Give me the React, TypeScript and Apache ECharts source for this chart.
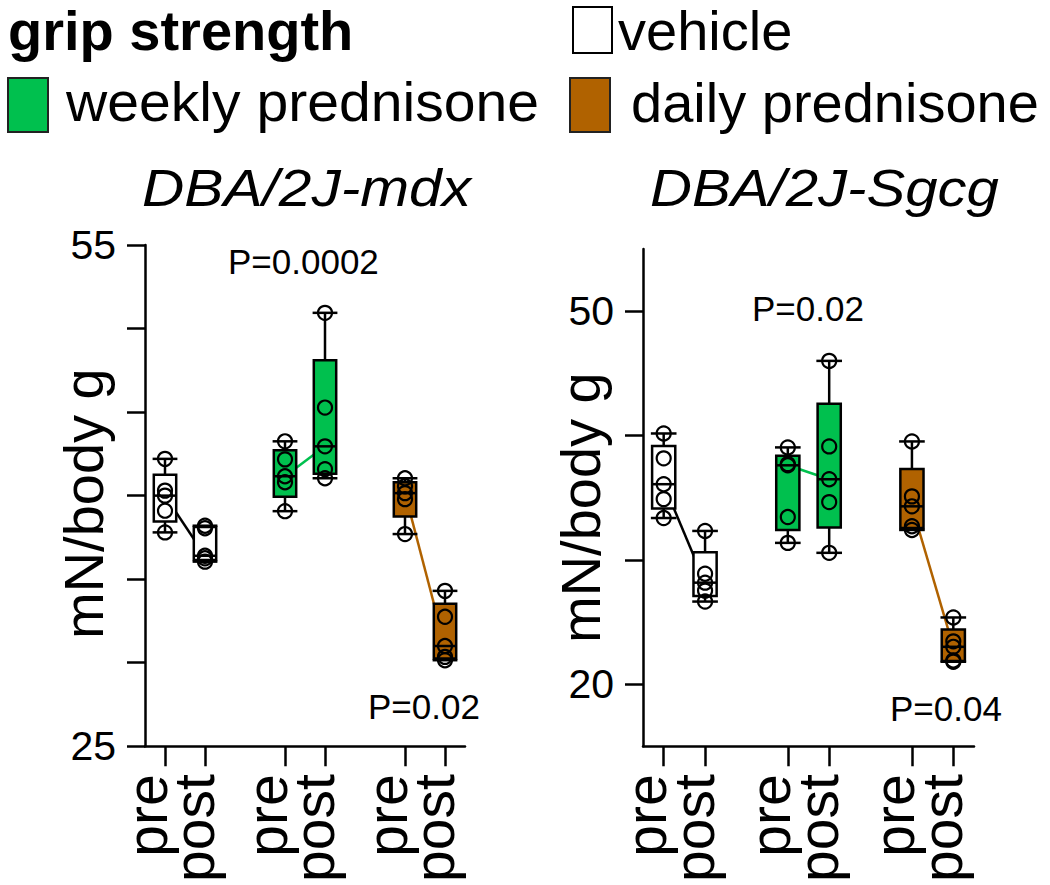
import React, { useEffect, useRef } from 'react';
import * as echarts from 'echarts';

const FONT = '"Liberation Sans", Arial, Helvetica, sans-serif';

// groups and colours
const groupNames = ['vehicle', 'weekly prednisone', 'daily prednisone'];
const groupFill = ['#FFFFFF', '#00C04E', '#B06200'];
const groupLine = ['#000000', '#00C04E', '#B06200'];

// x positions of the six boxes (pre/post for each group) and their tick labels
const xPositions = [1, 2, 4, 5, 7, 8];
const xTickLabels = ['pre', 'post', 'pre', 'post', 'pre', 'post'];
const boxGroup = [0, 0, 1, 1, 2, 2];

// y ticks and tick labels
const mdxYTicks = [25, 30, 35, 40, 45, 50, 55];
const mdxYLabels = [25, 55];
const sgcgYTicks = [20, 30, 40, 50];
const sgcgYLabels = [20, 50];

// individual mice, mN/body g  (DBA/2J-mdx)
const mdxVehPre = [42.2, 40.3, 40.0, 39.1, 37.8];
const mdxVehPost = [38.2, 38.05, 36.4, 36.25, 36.05];
const mdxWeekPre = [43.25, 42.17, 41.16, 40.8, 39.07];
const mdxWeekPost = [50.94, 45.27, 42.95, 41.58, 41.04];
const mdxDailyPre = [41.04, 40.56, 40.15, 39.79, 37.7];
const mdxDailyPost = [34.3, 32.75, 31.0, 30.35, 30.15];

// individual mice, mN/body g  (DBA/2J-Sgcg)
const sgcgVehPre = [40.16, 38.16, 36.08, 34.88, 33.36];
const sgcgVehPost = [32.32, 28.88, 28.16, 27.52, 26.64];
const sgcgWeekPre = [39.04, 37.7, 37.6, 33.44, 31.36];
const sgcgWeekPost = [46.0, 39.12, 36.48, 34.64, 30.56];
const sgcgDailyPre = [39.52, 35.1, 34.3, 32.7, 32.4];
const sgcgDailyPost = [25.36, 23.44, 23.0, 21.9, 21.8];

const mdxSets = [mdxVehPre, mdxVehPost, mdxWeekPre, mdxWeekPost, mdxDailyPre, mdxDailyPost];
const sgcgSets = [sgcgVehPre, sgcgVehPost, sgcgWeekPre, sgcgWeekPost, sgcgDailyPre, sgcgDailyPost];

const panelTitles = ['DBA/2J-mdx', 'DBA/2J-Sgcg'];
const yAxisName = 'mN/body g';
const pValues = ['P=0.0002', 'P=0.02', 'P=0.02', 'P=0.04'];

function quantile(sorted: number[], p: number): number {
  const pos = (sorted.length + 1) * p;
  const lo = Math.floor(pos);
  const frac = pos - lo;
  if (lo < 1) return sorted[0];
  if (lo >= sorted.length) return sorted[sorted.length - 1];
  return sorted[lo - 1] + frac * (sorted[lo] - sorted[lo - 1]);
}

function stats(vals: number[]) {
  const s = [...vals].sort((a, b) => a - b);
  return [s[0], quantile(s, 0.25), quantile(s, 0.5), quantile(s, 0.75), s[s.length - 1]];
}

function buildPanel(sets: number[][], xi: number, yi: number) {
  const series: any[] = [];
  const boxData = sets.map((vals, i) => [xPositions[i], ...stats(vals), boxGroup[i]]);
  // connecting lines between medians
  for (let g = 0; g < 3; g++) {
    const a = boxData[g * 2];
    const b = boxData[g * 2 + 1];
    series.push({
      type: 'line',
      xAxisIndex: xi,
      yAxisIndex: yi,
      data: [[a[0], a[3]], [b[0], b[3]]],
      symbol: 'none',
      lineStyle: { color: groupLine[g], width: 2.5 },
      z: 1,
      silent: true,
    });
  }
  series.push({
    type: 'custom',
    xAxisIndex: xi,
    yAxisIndex: yi,
    data: boxData,
    z: 2,
    silent: true,
    renderItem: (params: any, api: any) => {
      const x = api.value(0);
      const pMin = api.coord([x, api.value(1)]);
      const pQ1 = api.coord([x, api.value(2)]);
      const pMed = api.coord([x, api.value(3)]);
      const pQ3 = api.coord([x, api.value(4)]);
      const pMax = api.coord([x, api.value(5)]);
      const unit = api.size([1, 0])[0];
      const halfW = unit * 0.28;
      const capHalf = unit * 0.31;
      const cx = pMin[0];
      const fill = groupFill[api.value(6)];
      const ls = { stroke: '#000', lineWidth: 2.5 };
      return {
        type: 'group',
        children: [
          { type: 'line', shape: { x1: cx, y1: pMax[1], x2: cx, y2: pQ3[1] }, style: ls },
          { type: 'line', shape: { x1: cx, y1: pQ1[1], x2: cx, y2: pMin[1] }, style: ls },
          { type: 'line', shape: { x1: cx - capHalf, y1: pMax[1], x2: cx + capHalf, y2: pMax[1] }, style: ls },
          { type: 'line', shape: { x1: cx - capHalf, y1: pMin[1], x2: cx + capHalf, y2: pMin[1] }, style: ls },
          {
            type: 'rect',
            shape: { x: cx - halfW, y: pQ3[1], width: halfW * 2, height: pQ1[1] - pQ3[1] },
            style: { fill, stroke: '#000', lineWidth: 2.5 },
          },
          { type: 'line', shape: { x1: cx - halfW, y1: pMed[1], x2: cx + halfW, y2: pMed[1] }, style: ls },
        ],
      };
    },
  });
  const pts: number[][] = [];
  sets.forEach((vals, i) => vals.forEach((v) => pts.push([xPositions[i], v])));
  series.push({
    type: 'scatter',
    xAxisIndex: xi,
    yAxisIndex: yi,
    data: pts,
    symbol: 'circle',
    symbolSize: 14,
    itemStyle: { color: 'rgba(0,0,0,0)', borderColor: '#000', borderWidth: 2.2, opacity: 1 },
    z: 3,
    silent: true,
  });
  return series;
}

// one x axis per label kind ("pre" / "post") so that the tall rotated labels never collide
function xAxisCfg(gi: number, kind: string, main: boolean) {
  const vals = xPositions.filter((_, i) => xTickLabels[i] === kind);
  return {
    type: 'value',
    gridIndex: gi,
    position: 'bottom',
    offset: 0,
    min: 0.5,
    max: 8.5,
    axisLine: { show: main, onZero: false, lineStyle: { color: '#000', width: 2.5 } },
    axisTick: { show: main, customValues: xPositions, length: 20, lineStyle: { color: '#000', width: 2.5 } },
    axisLabel: {
      show: true,
      customValues: vals,
      hideOverlap: false,
      rotate: 90,
      margin: 28,
      fontSize: 57,
      verticalAlign: 'bottom',
      lineHeight: kind === 'pre' ? 36 : 22,
      color: '#000',
      fontFamily: FONT,
      formatter: (v: number) => {
        const i = xPositions.indexOf(v);
        return i >= 0 ? xTickLabels[i] : '';
      },
    },
    splitLine: { show: false },
  };
}

function yAxisCfg(gi: number, min: number, max: number, ticks: number[], labels: number[], gap: number, shift: number) {
  return {
    type: 'value',
    gridIndex: gi,
    min,
    max,
    name: yAxisName,
    nameLocation: 'middle',
    nameGap: gap,
    nameMoveOverlap: false,
    nameTextStyle: { fontSize: 56, color: '#000', fontFamily: FONT, padding: [0, shift, 0, 0] },
    axisLine: { show: true, lineStyle: { color: '#000', width: 2.5 } },
    axisTick: { show: true, customValues: ticks, length: 18, lineStyle: { color: '#000', width: 2.5 } },
    axisLabel: {
      customValues: labels,
      showMinLabel: true,
      showMaxLabel: true,
      fontSize: 41,
      color: '#000',
      margin: 29,
      fontFamily: FONT,
    },
    splitLine: { show: false },
  };
}

export default function App() {
  const ref = useRef<HTMLDivElement>(null);
  useEffect(() => {
    if (!ref.current) return;
    const chart = echarts.init(ref.current, undefined, { renderer: 'svg' });
    const textStyle = (size: number, extra: any = {}) => ({
      fontSize: size,
      fontFamily: FONT,
      fill: '#000',
      verticalAlign: 'middle',
      align: 'left',
      ...extra,
    });
    const option: any = {
      animation: false,
      backgroundColor: '#fff',
      textStyle: { fontFamily: FONT },
      grid: [
        { left: 145, right: 1050 - 465, top: 245, bottom: 885 - 748 },
        { left: 643, right: 1050 - 974, top: 249, bottom: 885 - 748 },
      ],
      xAxis: [
        xAxisCfg(0, 'pre', true),
        xAxisCfg(0, 'post', false),
        xAxisCfg(1, 'pre', true),
        xAxisCfg(1, 'post', false),
      ],
      yAxis: [
        yAxisCfg(0, 25, 55, mdxYTicks, mdxYLabels, 34, 16),
        yAxisCfg(1, 15, 55, sgcgYTicks, sgcgYLabels, 35, 20),
      ],
      series: [...buildPanel(mdxSets, 0, 0), ...buildPanel(sgcgSets, 2, 1)],
      graphic: [
        { type: 'text', x: 8, y: 30, style: { text: 'grip strength', lineHeight: 50, ...textStyle(56, { fontWeight: 'bold' }) } },
        { type: 'rect', shape: { x: 573, y: 7, width: 39, height: 46 }, style: { fill: groupFill[0], stroke: '#000', lineWidth: 2 } },
        { type: 'text', x: 618, y: 30, style: { text: groupNames[0], lineHeight: 50, ...textStyle(56) } },
        { type: 'rect', shape: { x: 8, y: 78, width: 40, height: 54 }, style: { fill: groupFill[1], stroke: '#222', lineWidth: 2 } },
        { type: 'text', x: 66, y: 102, scaleX: 1.02, style: { text: groupNames[1], ...textStyle(56) } },
        { type: 'rect', shape: { x: 570, y: 78, width: 40, height: 54 }, style: { fill: groupFill[2], stroke: '#222', lineWidth: 2 } },
        { type: 'text', x: 631, y: 102, style: { text: groupNames[2], ...textStyle(56) } },
        { type: 'text', x: 142, y: 188, scaleX: 1.15, style: { text: panelTitles[0], ...textStyle(51, { fontStyle: 'italic' }) } },
        { type: 'text', x: 650, y: 188, scaleX: 1.14, style: { text: panelTitles[1], ...textStyle(51, { fontStyle: 'italic' }) } },
        { type: 'text', x: 228, y: 261, style: { text: pValues[0], ...textStyle(35) } },
        { type: 'text', x: 368, y: 706, style: { text: pValues[1], ...textStyle(35) } },
        { type: 'text', x: 752, y: 308, style: { text: pValues[2], ...textStyle(35) } },
        { type: 'text', x: 890, y: 708, style: { text: pValues[3], ...textStyle(35) } },
      ],
    };
    chart.setOption(option);
    return () => chart.dispose();
  }, []);
  return (
    <div
      ref={ref}
      style={{ position: 'absolute', left: 0, top: 0, width: 1050, height: 885, background: '#fff' }}
    />
  );
}
